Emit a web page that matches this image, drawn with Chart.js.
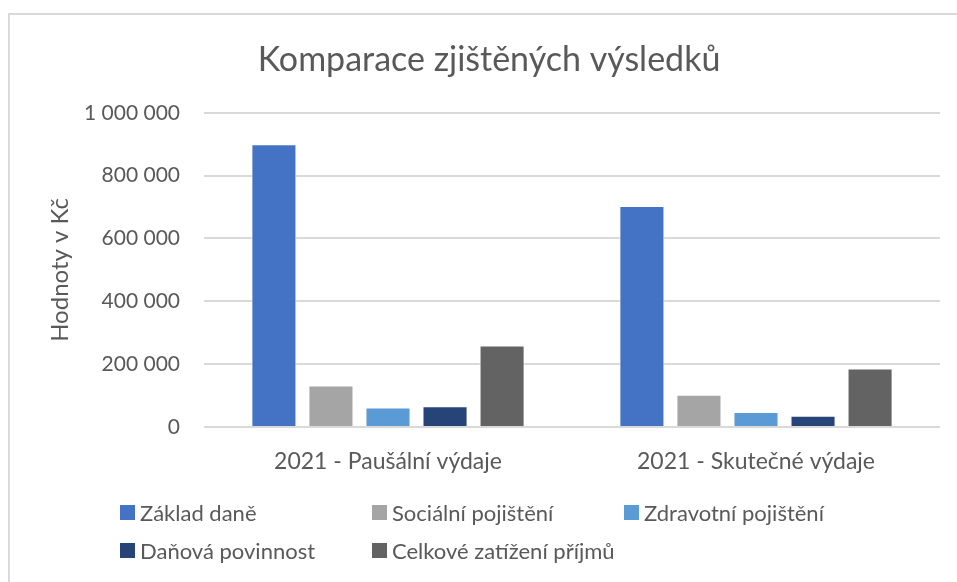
<!DOCTYPE html>
<html><head><meta charset="utf-8">
<script src="https://cdn.jsdelivr.net/npm/chart.js@4/dist/chart.umd.min.js"></script>
<style>
html,body{margin:0;padding:0;background:#fff;overflow:hidden}
#wrap{position:relative;width:957px;height:582px}
#frame{position:absolute;left:8px;top:13px;width:1000px;height:700px;border-left:2px solid #d9d9d9;border-top:2px solid #d9d9d9}
canvas{position:absolute;left:0;top:0}
#legend{position:absolute;left:0;top:0;width:957px;height:582px;font-family:Lato,sans-serif;font-size:22px;color:#595959}
.li{position:absolute;display:flex;align-items:center;white-space:nowrap;height:30px}
.sw{width:15px;height:15px;margin-right:5px;flex:none}
</style></head><body>
<div id="wrap"><div id="frame"></div><canvas id="c" width="957" height="582"></canvas><div id="legend"></div></div>
<script>
const categories = ["2021 - Paušální výdaje", "2021 - Skutečné výdaje"];
const seriesNames = ["Základ daně", "Sociální pojištění", "Zdravotní pojištění", "Daňová povinnost", "Celkové zatížení příjmů"];
const zakladDane = [900000, 703000];
const socialniPojisteni = [132000, 103000];
const zdravotniPojisteni = [62000, 48000];
const danovaPovinnost = [66000, 36000];
const celkoveZatizeni = [259000, 186000];
const yTicks = [0, 200000, 400000, 600000, 800000, 1000000];
const colors = ["#4472c4", "#a5a5a5", "#5b9bd5", "#264478", "#636363"];
const seriesValues = [zakladDane, socialniPojisteni, zdravotniPojisteni, danovaPovinnost, celkoveZatizeni];

const fmt = v => String(v).replace(/\B(?=(\d{3})+(?!\d))/g, " ");
const FONT = "Lato";

const chart = new Chart(document.getElementById("c"), {
  type: "bar",
  data: {
    labels: categories,
    datasets: seriesNames.map((n, i) => ({
      label: n, data: seriesValues[i], backgroundColor: colors[i],
      borderColor: "#ffffff", borderWidth: 1,
      categoryPercentage: 0.775, barPercentage: 0.79
    }))
  },
  options: {
    responsive: false, animation: false,
    layout: { padding: { left: 38, right: 17, top: 10, bottom: 0 } },
    plugins: {
      legend: { display: false },
      tooltip: { enabled: false },
      title: { display: true, text: "Komparace zjištěných výsledků", color: "#595959",
        font: { family: FONT, size: 34, weight: "normal", lineHeight: 1.2 }, padding: { top: 30, bottom: 32 } }
    },
    scales: {
      x: { grid: { display: false }, border: { display: false },
        afterFit: ax => { ax.height = 155; },
        ticks: { color: "#595959", font: { family: FONT, size: 23 }, padding: 13 } },
      y: { min: 0, max: 1000000, afterBuildTicks: ax => { ax.ticks = yTicks.map(v => ({ value: v })); },
        afterFit: ax => { ax.width = 166; },
        grid: { color: "#d9d9d9", lineWidth: 2, drawTicks: false }, border: { display: false },
        ticks: { color: "#595959", font: { family: FONT, size: 21 }, padding: 24, callback: v => fmt(v) },
        title: { display: true, text: "Hodnoty v Kč", color: "#595959", font: { family: FONT, size: 24, lineHeight: 1.2 }, padding: { top: 8, bottom: 0 } } }
    }
  }
});

const leg = document.getElementById("legend");
const pos = [[120, 512], [372, 512], [624, 512], [120, 550], [372, 550]];
seriesNames.forEach((n, i) => {
  const d = document.createElement("div"); d.className = "li";
  d.style.left = pos[i][0] + "px"; d.style.top = (pos[i][1] - 15) + "px";
  d.innerHTML = '<span class="sw" style="background:' + colors[i] + '"></span>' + n;
  leg.appendChild(d);
});
</script></body></html>
